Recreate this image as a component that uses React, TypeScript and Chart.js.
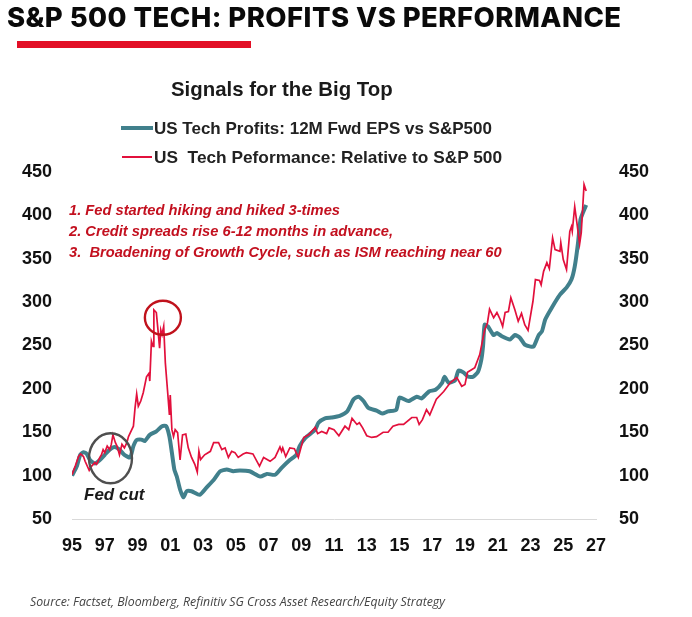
import React, { useEffect, useRef } from "react";
import { Chart, registerables } from "chart.js";

Chart.register(...registerables);

const profitYears = [1995,1995.3,1995.5,1995.7,1995.9,1996.1,1996.4,1996.7,1997,1997.3,1997.6,1997.9,1998.2,1998.55,1998.75,1998.95,1999.25,1999.45,1999.75,2000.15,2000.5,2000.75,2000.95,2001.1,2001.25,2001.4,2001.6,2001.8,2002,2002.3,2002.8,2003.2,2003.65,2004.05,2004.45,2004.85,2005.25,2005.85,2006.5,2006.9,2007.4,2007.8,2008.3,2008.7,2008.9,2009.25,2009.85,2010.05,2010.45,2010.85,2011.35,2011.8,2012.2,2012.5,2012.8,2013.1,2013.6,2013.95,2014.3,2014.8,2015,2015.55,2016.05,2016.35,2016.8,2017.2,2017.6,2017.75,2018,2018.4,2018.6,2018.9,2019.2,2019.5,2019.8,2020,2020.1,2020.2,2020.4,2020.75,2020.95,2021.25,2021.75,2022.05,2022.35,2022.65,2023,2023.2,2023.5,2023.7,2023.9,2024.3,2024.8,2025.2,2025.5,2025.7,2025.9,2026.05,2026.2,2026.4];
const profitValues = [100,111,124,127,125,118,114,118,124,130,133,130,124,121,134,141,141.5,140,147,151,157,157,145,126.5,107,99,84,75,82,82,78,86,95,105,107,105,106,105,99,102,101,109,118,124,134,143.5,153,161,166,167,169,174,188,191,186,178,175,171.5,174,176,190,186,191,189,197,199,207,214,207,210,221,219,214,214,220,234,249,274,272,262,264.5,260.6,257,262,259,251,248.7,249,262,266.4,280,293.6,308.6,316.7,326,341,368,395,403,412];

const perfYears = [1995,1995.2,1995.4,1995.53,1995.7,1995.8,1996.05,1996.2,1996.4,1996.5,1996.7,1996.8,1996.9,1997,1997.15,1997.3,1997.4,1997.5,1997.65,1997.75,1997.9,1998.05,1998.2,1998.35,1998.45,1998.65,1998.75,1998.85,1998.95,1999.05,1999.2,1999.35,1999.55,1999.7,1999.75,1999.85,1999.95,2000,2000.15,2000.25,2000.35,2000.42,2000.5,2000.6,2000.7,2000.83,2000.95,2001,2001.1,2001.2,2001.3,2001.45,2001.6,2001.75,2001.95,2002.1,2002.3,2002.5,2002.65,2002.75,2002.85,2003.1,2003.45,2003.65,2003.95,2004.15,2004.35,2004.55,2004.75,2004.95,2005.15,2005.45,2005.65,2006.05,2006.45,2006.7,2007.1,2007.4,2007.7,2007.8,2007.87,2008.05,2008.3,2008.58,2008.82,2009.15,2009.45,2009.85,2010,2010.25,2010.55,2010.7,2011,2011.3,2011.67,2011.9,2012.1,2012.4,2012.55,2012.75,2013,2013.3,2013.6,2014,2014.3,2014.6,2014.95,2015.25,2015.75,2016.05,2016.2,2016.4,2016.65,2016.85,2017.25,2017.7,2018.1,2018.5,2018.8,2019,2019.15,2019.4,2019.6,2019.9,2020.2,2020.37,2020.5,2020.75,2020.95,2021.15,2021.3,2021.45,2021.65,2021.8,2022.05,2022.25,2022.45,2022.65,2022.85,2023.15,2023.3,2023.55,2023.65,2023.8,2024,2024.15,2024.35,2024.5,2024.8,2024.85,2025,2025.2,2025.4,2025.5,2025.55,2025.7,2025.85,2026,2026.1,2026.27,2026.4];
const perfValues = [101,111,122,125,122,116.5,106,111,115,113,121,124,130,126.5,134,130,136,147,138,134,124,136,132,138,145,153,157,178,194,180,186,195.5,214,218,209,255,249,291,288,268,247,268,262.5,272,230,199,170,193,153,145,153,149.5,118,147,148,132,121,113,104,128,118.4,124,128,138,138,130,132,121,128,126.5,121,125,126.5,125,111,121,116.5,121,133,128,132,122,132,131,121,144,147,155.6,148.4,151,148.4,155,153,146,157,153,166,159,161,155,146,144,145,150,150,157,159,159,167,167,159,164.5,176,170,188,197,207,213,203,205,219,222,224.5,239.5,268,276,292,282,288,280,272,288,289,305,291,278,287,274,267.5,301,326,325,320,335.5,345.5,338.6,374,360.5,358.6,368.6,349,337.5,381.6,387,381.6,410,389,367,380,435.5,428];

const yTickValues = [50,100,150,200,250,300,350,400,450];
const title = "S&P 500 TECH: PROFITS VS PERFORMANCE";
const subtitle = "Signals for the Big Top";
const profitLabel = "US Tech Profits: 12M Fwd EPS vs S&P500";
const perfLabel = "US  Tech Peformance: Relative to S&P 500";
const notes = ["1. Fed started hiking and hiked 3-times","2. Credit spreads rise 6-12 months in advance,","3.  Broadening of Growth Cycle, such as ISM reaching near 60"];
const fedCut = "Fed cut";
const source = "Source: Factset, Bloomberg, Refinitiv SG Cross Asset Research/Equity Strategy";

const TEAL = "#41808c";
const RED = "#e2103c";
const SANS = '"Liberation Sans", Arial, sans-serif';

const rings = [
  { year: 2000.55, value: 282, rx: 18, ry: 17, color: "#c0121c" },
  { year: 1997.35, value: 120, rx: 21.5, ry: 25, color: "#4f4f4f" },
];

const ringPlugin = {
  id: "rings",
  afterDatasetsDraw(chart: any) {
    const { ctx, scales } = chart;
    rings.forEach((r) => {
      ctx.save();
      ctx.strokeStyle = r.color;
      ctx.lineWidth = 2.4;
      ctx.beginPath();
      ctx.ellipse(scales.x.getPixelForValue(r.year), scales.y.getPixelForValue(r.value), r.rx, r.ry, 0, 0, Math.PI * 2);
      ctx.stroke();
      ctx.restore();
    });
  },
};

const abs = (left: number, top: number, extra: React.CSSProperties = {}): React.CSSProperties => ({
  position: "absolute", left, top, whiteSpace: "pre", lineHeight: 1, ...extra,
});

export default function App() {
  const ref = useRef<HTMLCanvasElement>(null);
  useEffect(() => {
    const tickFont = { family: SANS, size: 18, weight: "bold" as const };
    const chart = new Chart(ref.current!, {
      type: "line",
      data: {
        datasets: [
          { label: profitLabel, data: profitYears.map((x, i) => ({ x, y: profitValues[i] })), borderColor: TEAL, backgroundColor: TEAL, borderWidth: 4, pointRadius: 0, tension: 0.2, order: 2, yAxisID: "y" },
          { label: perfLabel, data: perfYears.map((x, i) => ({ x, y: perfValues[i] })), borderColor: RED, backgroundColor: RED, borderWidth: 1.7, pointRadius: 0, tension: 0, order: 1, yAxisID: "y" },
        ],
      },
      options: {
        responsive: false,
        animation: false,
        devicePixelRatio: 1,
        layout: { padding: { top: 172, left: 0, right: 0, bottom: 0 } },
        plugins: { legend: { display: false }, tooltip: { enabled: false }, title: { display: false } },
        scales: {
          x: {
            type: "linear", min: 1995, max: 2027,
            grid: { display: false, drawTicks: false },
            border: { display: true, color: "#d9d9d9", width: 1 },
            ticks: { stepSize: 2, autoSkip: false, maxRotation: 0, padding: 16, color: "#111", font: tickFont, callback: (v: any) => String(Number(v) % 100).padStart(2, "0") },
            afterFit: (s: any) => { s.height = 98; },
          },
          y: {
            position: "left", min: 50, max: 450,
            grid: { display: false, drawTicks: false },
            border: { display: false },
            afterBuildTicks: (s: any) => { s.ticks = yTickValues.map((value) => ({ value })); },
            ticks: { padding: 20, color: "#111", font: tickFont },
            afterFit: (s: any) => { s.width = 72; },
          },
          y2: {
            position: "right", min: 50, max: 450,
            grid: { display: false, drawTicks: false },
            border: { display: false },
            afterBuildTicks: (s: any) => { s.ticks = yTickValues.map((value) => ({ value })); },
            ticks: { padding: 23, color: "#111", font: tickFont },
            afterFit: (s: any) => { s.width = 96; },
          },
        },
      },
      plugins: [ringPlugin],
    } as any);
    return () => chart.destroy();
  }, []);

  return (
    <div style={{ position: "absolute", left: 0, top: 0, width: 692, height: 617, background: "#fff", overflow: "hidden" }}>
      <canvas ref={ref} width={692} height={617} style={{ position: "absolute", left: 0, top: 0, width: 692, height: 617 }} />
      <div style={abs(7, 4, { fontFamily: "Inter, sans-serif", fontWeight: 800, fontSize: 27.5, letterSpacing: 0.45, color: "#0a0a0a" })}>{title}</div>
      <div style={{ position: "absolute", left: 17, top: 41, width: 234, height: 7, background: "#e30f26" }} />
      <div style={abs(171, 79, { fontFamily: SANS, fontWeight: 700, fontSize: 20.4, color: "#1a1a1a" })}>{subtitle}</div>
      <div style={{ position: "absolute", left: 121, top: 126, width: 32, height: 4, background: TEAL }} />
      <div style={abs(154, 120, { fontFamily: SANS, fontWeight: 700, fontSize: 17, color: "#222" })}>{profitLabel}</div>
      <div style={{ position: "absolute", left: 122, top: 156, width: 30, height: 2, background: RED }} />
      <div style={abs(154, 149, { fontFamily: SANS, fontWeight: 700, fontSize: 17.3, color: "#222" })}>{perfLabel}</div>
      {notes.map((n, i) => (
        <div key={n} style={abs(69, [203, 224, 245][i], { fontFamily: SANS, fontWeight: 700, fontStyle: "italic", fontSize: 14.7, color: "#c3101f" })}>{n}</div>
      ))}
      <div style={abs(84, 486, { fontFamily: SANS, fontWeight: 700, fontStyle: "italic", fontSize: 17, color: "#1a1a1a" })}>{fedCut}</div>
      <div style={abs(30, 596, { fontFamily: '"Open Sans", sans-serif', fontStyle: "italic", fontSize: 12.3, color: "#444" })}>{source}</div>
    </div>
  );
}
